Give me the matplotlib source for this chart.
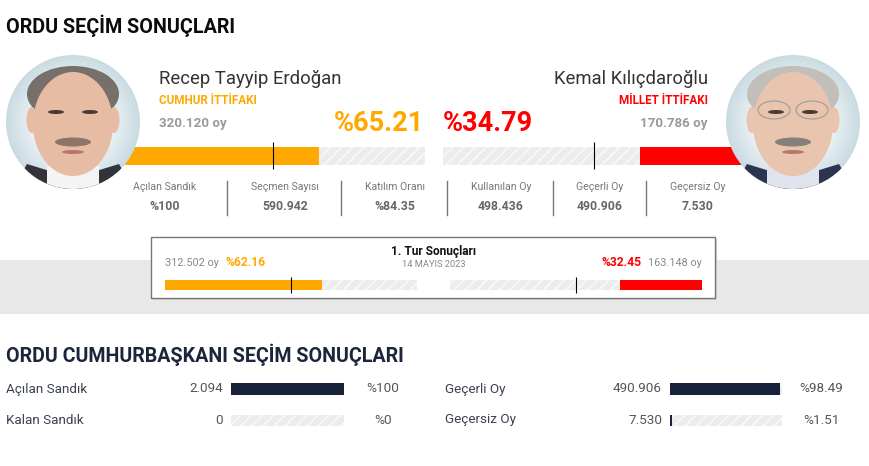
import numpy as np
import matplotlib
matplotlib.use('Agg')
import matplotlib.pyplot as plt
from matplotlib.colors import LinearSegmentedColormap
from matplotlib.patches import Rectangle, Circle, Ellipse, Polygon

plt.rcParams['font.family'] = ['Roboto', 'DejaVu Sans']
plt.rcParams['hatch.linewidth'] = 1.4

W, H = 870, 466
ORANGE = '#ffa800'
RED = '#ff0000'
NAVY = '#18233a'
TRACK = '#ececec'

# second round
main_pct = [65.21, 34.79]
main_votes = ['320.120 oy', '170.786 oy']
candidates = ['Recep Tayyip Erdoğan', 'Kemal Kılıçdaroğlu']
alliances = ['CUMHUR İTTİFAKI', 'MİLLET İTTİFAKI']

stat_labels = ['Açılan Sandık', 'Seçmen Sayısı', 'Katılım Oranı', 'Kullanılan Oy', 'Geçerli Oy', 'Geçersiz Oy']
stat_values = ['%100', '590.942', '%84.35', '498.436', '490.906', '7.530']

# first round
first_pct = [62.16, 32.45]
first_votes = ['312.502 oy', '163.148 oy']

# bottom table
row_labels = ['Açılan Sandık', 'Kalan Sandık', 'Geçerli Oy', 'Geçersiz Oy']
row_counts = ['2.094', '0', '490.906', '7.530']
row_pct = [100, 0, 98.49, 1.51]
row_pct_text = ['%100', '%0', '%98.49', '%1.51']

fig = plt.figure(figsize=(W / 100, H / 100), dpi=100, facecolor='white')


def px_axes(x0, y0, x1, y1, z):
    ax = fig.add_axes([x0 / W, 1 - y1 / H, (x1 - x0) / W, (y1 - y0) / H], zorder=z)
    ax.patch.set_alpha(0)
    ax.axis('off')
    return ax


def pct_bar(x0, y0, x1, y1, value, color, reverse=False, mid=False, mid_ext=0.25):
    ax = px_axes(x0, y0, x1, y1, 1)
    ax.set_xlim((100, 0) if reverse else (0, 100))
    ax.set_ylim(0, 1)
    ax.barh(0.5, 100, height=1, color=TRACK, hatch='///', edgecolor='#f8f8f8', linewidth=0)
    ax.barh(0.5, value, height=1, color=color, linewidth=0)
    if mid:
        ax.plot([50, 50], [-mid_ext, 1 + mid_ext], color='black', lw=0.8, clip_on=False,
                solid_capstyle='butt')
    return ax


# background layer
bg = px_axes(0, 0, W, H, 0)
bg.set_xlim(0, W)
bg.set_ylim(H, 0)
bg.add_patch(Rectangle((0, 260), W, 54, facecolor='#e8e8e8', lw=0))
bg.add_patch(Rectangle((153, 239), 564, 61, facecolor='#d4d4d4', lw=0))
bg.add_patch(Rectangle((151.5, 237), 564, 61, facecolor='white', edgecolor='#777777', lw=1))

# bars
pct_bar(121, 147, 425, 165, main_pct[0], ORANGE, mid=True)
pct_bar(443, 147, 745, 165, main_pct[1], RED, reverse=True, mid=True)
pct_bar(165, 280, 417, 290, first_pct[0], ORANGE, mid=True, mid_ext=0.3)
pct_bar(450, 280, 702, 290, first_pct[1], RED, reverse=True, mid=True, mid_ext=0.3)
pct_bar(231, 383, 344, 395, row_pct[0], NAVY)
pct_bar(231, 415, 344, 426, row_pct[1], NAVY)
pct_bar(670, 383, 782, 395, row_pct[2], NAVY)
pct_bar(670, 415, 782, 426, row_pct[3], NAVY)

# top layer for text and portraits
ax = px_axes(0, 0, W, H, 3)
ax.set_xlim(0, W)
ax.set_ylim(H, 0)

glow_cmap = LinearSegmentedColormap.from_list('glow', ['#ffffff', '#f4f8f9', '#c9dbe2'])


def label(x, y, s, size, color='#333333', bold=False, ha='left'):
    ax.text(x, y - 1.5, s, fontsize=size, color=color, ha=ha, va='center_baseline',
            fontweight='bold' if bold else 'normal')


def portrait(cx, cy, r, hair, skin, suit, shirt, tash, glasses=False):
    clip = Circle((cx, cy), r, transform=ax.transData)
    yy, xx = np.mgrid[-1:1:150j, -1:1:150j]
    im = ax.imshow(np.clip(np.hypot(xx, yy), 0, 1), extent=(cx - r, cx + r, cy + r, cy - r),
                   cmap=glow_cmap, zorder=2)
    im.set_clip_path(clip)
    parts = [
        Polygon([(cx - 62, cy + 70), (cx - 46, cy + 42), (cx - 20, cy + 50), (cx + 20, cy + 50),
                 (cx + 46, cy + 42), (cx + 62, cy + 70)], facecolor=suit, lw=0),
        Polygon([(cx - 26, cy + 70), (cx - 26, cy + 44), (cx + 26, cy + 44), (cx + 26, cy + 70)],
                facecolor=shirt, lw=0),
        Ellipse((cx, cy - 28), 92, 56, facecolor=hair, lw=0),
        Ellipse((cx - 41, cy - 2), 11, 26, facecolor=skin, lw=0),
        Ellipse((cx + 41, cy - 2), 11, 26, facecolor=skin, lw=0),
        Ellipse((cx, cy + 2), 80, 104, facecolor=skin, lw=0),
        Ellipse((cx - 17, cy - 10), 16, 4, facecolor='#4a3a32', lw=0),
        Ellipse((cx + 17, cy - 10), 16, 4, facecolor='#4a3a32', lw=0),
        Ellipse((cx, cy + 20), 36, 9, facecolor=tash, lw=0),
        Ellipse((cx, cy + 30), 22, 4, facecolor='#b5796a', lw=0),
    ]
    for p in parts:
        p.set_zorder(3)
        ax.add_patch(p)
        p.set_clip_path(clip)
    if glasses:
        for dx in (-19, 19):
            ax.add_patch(Ellipse((cx + dx, cy - 12), 32, 18, facecolor='none',
                                 edgecolor='#a09a98', lw=0.8, zorder=4))
    ax.set_xlim(0, W)
    ax.set_ylim(H, 0)


portrait(73, 122, 67, '#77706a', '#e6bca4', '#33343a', '#f4f4f4', '#8f7565')
portrait(793, 122, 67, '#c2beba', '#e9c4ae', '#2c3550', '#dfe3ee', '#85807c', glasses=True)

# headings
label(6, 25, 'ORDU SEÇİM SONUÇLARI', 14.2, '#0b0b0b', True)
label(6, 354, 'ORDU CUMHURBAŞKANI SEÇİM SONUÇLARI', 14.1, '#1c263b', True)

# candidates
label(159, 79, candidates[0], 13.3)
label(708, 79, candidates[1], 13.3, ha='right')
label(159, 101, alliances[0], 8.4, ORANGE, True)
label(708, 101, alliances[1], 8.4, RED, True, ha='right')
label(159, 123, main_votes[0], 9.6, '#999999', True)
label(708, 123, main_votes[1], 9.6, '#999999', True, ha='right')
label(424, 122, f'%{main_pct[0]:.2f}', 19.5, ORANGE, True, ha='right')
label(443, 122, f'%{main_pct[1]:.2f}', 19.5, RED, True)

# stat strip
stat_x = [165, 285, 395, 501, 600, 698]
for x, lab, val in zip(stat_x, stat_labels, stat_values):
    label(x, 187, lab, 7.6, '#777777', ha='center')
    label(x, 206, val, 8.8, '#666666', True, ha='center')
for x in [227.5, 341, 447.5, 553.5, 646]:
    ax.plot([x, x], [181, 215], color='#777777', lw=1)

# first round box
label(434, 251, '1. Tur Sonuçları', 8.6, '#111111', True, ha='center')
label(434, 265, '14 MAYIS 2023', 6.7, '#888888', ha='center')
label(165, 263, first_votes[0], 7.8, '#888888')
label(226, 263, f'%{first_pct[0]:.2f}', 8.7, ORANGE, True)
label(642, 263, f'%{first_pct[1]:.2f}', 8.7, RED, True, ha='right')
label(702, 263, first_votes[1], 7.8, '#888888', ha='right')

# bottom rows
row_y = [389, 420, 389, 420]
label_x = [6, 6, 445, 445]
count_x = [223, 223, 662, 662]
pct_x = [383, 383, 821, 821]
for i in range(4):
    label(label_x[i], row_y[i], row_labels[i], 9.7, '#3a4152')
    label(count_x[i], row_y[i], row_counts[i], 9.7, '#555555', ha='right')
    label(pct_x[i], row_y[i], row_pct_text[i], 9.7, '#555555', ha='center')

fig.savefig('out.png', dpi=100)
